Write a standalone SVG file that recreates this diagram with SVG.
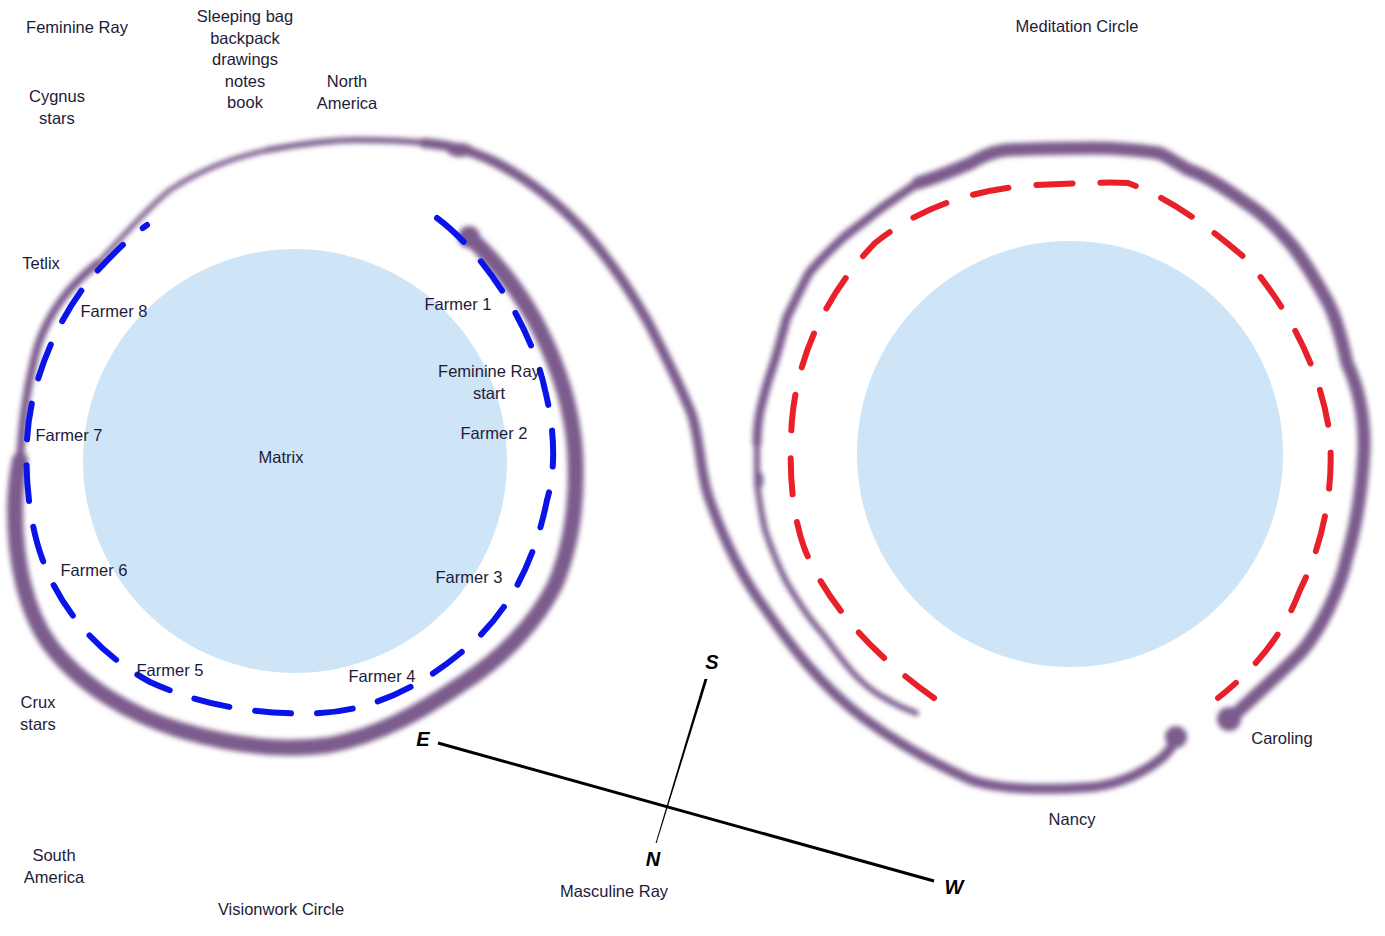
<svg xmlns="http://www.w3.org/2000/svg" width="1385" height="936" viewBox="0 0 1385 936">
<defs>
<filter id="soft" x="-10%" y="-10%" width="120%" height="120%"><feGaussianBlur stdDeviation="2.4"/></filter>
<style>
.lbl{font-family:"Liberation Sans",Arial,sans-serif;font-size:16.5px;fill:#1e1b3a;text-anchor:middle}
.dir{font-family:"Liberation Sans",Arial,sans-serif;font-size:20px;font-weight:bold;font-style:italic;fill:#000;text-anchor:middle}
.pur{fill:none;stroke:#7b5c8c;stroke-linecap:round;stroke-linejoin:round}
.blue{fill:none;stroke:#0a14e8;stroke-width:6;stroke-linecap:round;stroke-dasharray:36 26}
.red{fill:none;stroke:#e8202a;stroke-width:6;stroke-linecap:round;stroke-dasharray:36 28}
</style>
</defs>
<rect width="1385" height="936" fill="#fff"/>
<g id="matrix-disc"><circle cx="295" cy="461" r="212" fill="#cee4f7"/></g>
<g id="meditation-disc"><circle cx="1070" cy="454" r="213" fill="#cee4f7"/></g>
<g id="purple-path" filter="url(#soft)">
<path class="pur" stroke-width="16" d="M469,237 C490,255 520,290 540,330 C560,370 572,410 575,450 C578,500 572,545 555,585 C535,625 500,660 460,685 C420,712 380,735 330,745 C280,752 230,745 180,730 C130,715 80,685 50,645 C25,610 15,560 15,510 C15,490 17,475 20,460"/>
<circle cx="469" cy="237" r="11" fill="#7b5c8c"/>
<path class="pur" stroke-width="8" d="M20,460 C22,420 28,380 38,345 C50,310 70,285 98,263"/>
<path class="pur" stroke-width="5" d="M98,263 C120,240 145,210 170,190 C200,170 230,158 268,150"/>
<path class="pur" stroke-width="6" d="M268,150 C300,144 330,140 357,140 C390,140 410,141 424,143"/>
<path class="pur" stroke-width="10" d="M424,143 C450,145 470,150 495,162 C530,180 560,205 585,232 C610,260 630,290 648,322 C665,355 680,385 692,415 C700,440 700,470 708,495 C720,530 740,575 766,610 C790,645 820,685 862,717 C890,738 930,762 971,780 C1000,790 1050,790 1093,787 C1120,784 1145,772 1163,757 C1170,750 1175,743 1176,737"/>
<ellipse cx="460" cy="150" rx="13" ry="7" fill="#7b5c8c"/>
<circle cx="1176" cy="737" r="11" fill="#7b5c8c"/>
<path class="pur" stroke-width="13" d="M1229,720 C1250,700 1290,665 1303,650 C1320,630 1340,590 1347,557 C1355,530 1362,490 1364,450 C1365,410 1355,380 1347,363 C1340,330 1333,310 1325,297 C1310,270 1300,255 1290,243 C1275,225 1260,212 1246,203 C1225,188 1205,175 1189,170 C1175,162 1165,155 1159,153 C1130,149 1110,148 1093,148 C1060,148 1030,149 1006,150 C990,152 980,158 971,163 C950,172 935,178 918,183"/>
<circle cx="1229" cy="719" r="12" fill="#7b5c8c"/>
<path class="pur" stroke-width="9" d="M918,183 C900,195 885,205 875,213 C860,225 850,232 844,237 C830,250 818,262 809,273 C800,290 793,305 787,317 C782,335 778,350 774,363 C768,380 764,395 761,407 C758,420 757,432 757,443"/>
<path class="pur" stroke-width="6" d="M757,443 C757,460 757,475 757,483 C760,505 762,520 766,533 C772,550 780,570 787,583 C800,605 810,620 822,633 C835,650 845,665 857,677 C868,688 878,695 888,700 C898,706 908,710 916,713"/>
<ellipse cx="759" cy="480" rx="4.5" ry="9" fill="#7b5c8c"/>
</g>
<g id="farmer-ring"><path class="blue" d="M437,218 C480,250 530,320 545,390 C555,430 556,470 547,500 C535,560 510,610 470,645 C430,680 380,710 320,713 C260,716 200,705 150,682 C100,655 60,610 42,558 C28,520 25,470 27,440 C30,380 60,310 100,268 C115,252 130,237 147,225"/></g>
<g id="meditation-ring"><path class="red" d="M934,698 C880,660 830,610 805,550 C790,510 789,460 792,420 C798,350 830,290 875,243 C910,215 960,190 1036,185 C1080,183 1110,182 1128,183 C1170,198 1210,228 1245,258 C1290,310 1320,370 1329,430 C1335,480 1325,540 1300,590 C1285,630 1260,665 1218,698"/></g>
<g id="compass">
<line x1="438" y1="743" x2="934" y2="881" stroke="#000" stroke-width="3"/>
<polygon points="704.5,679 707.5,679 656.6,843 655.6,843" fill="#000"/>
<text class="dir" x="712" y="669">S</text>
<text class="dir" x="653" y="866">N</text>
<text class="dir" x="423" y="746">E</text>
<text class="dir" x="954" y="894">W</text>
</g>
<g id="labels">
<text class="lbl" x="77" y="33">Feminine Ray</text>
<text class="lbl" x="245" y="22">Sleeping bag</text>
<text class="lbl" x="245" y="44">backpack</text>
<text class="lbl" x="245" y="65">drawings</text>
<text class="lbl" x="245" y="87">notes</text>
<text class="lbl" x="245" y="108">book</text>
<text class="lbl" x="347" y="87">North</text>
<text class="lbl" x="347" y="109">America</text>
<text class="lbl" x="57" y="102">Cygnus</text>
<text class="lbl" x="57" y="124">stars</text>
<text class="lbl" x="1077" y="32">Meditation Circle</text>
<text class="lbl" x="41" y="269">Tetlix</text>
<text class="lbl" x="114" y="317">Farmer 8</text>
<text class="lbl" x="458" y="310">Farmer 1</text>
<text class="lbl" x="489" y="377">Feminine Ray</text>
<text class="lbl" x="489" y="399">start</text>
<text class="lbl" x="494" y="439">Farmer 2</text>
<text class="lbl" x="69" y="441">Farmer 7</text>
<text class="lbl" x="281" y="463">Matrix</text>
<text class="lbl" x="94" y="576">Farmer 6</text>
<text class="lbl" x="469" y="583">Farmer 3</text>
<text class="lbl" x="170" y="676">Farmer 5</text>
<text class="lbl" x="382" y="682">Farmer 4</text>
<text class="lbl" x="38" y="708">Crux</text>
<text class="lbl" x="38" y="730">stars</text>
<text class="lbl" x="1282" y="744">Caroling</text>
<text class="lbl" x="1072" y="825">Nancy</text>
<text class="lbl" x="54" y="861">South</text>
<text class="lbl" x="54" y="883">America</text>
<text class="lbl" x="614" y="897">Masculine Ray</text>
<text class="lbl" x="281" y="915">Visionwork Circle</text>
</g>
</svg>
